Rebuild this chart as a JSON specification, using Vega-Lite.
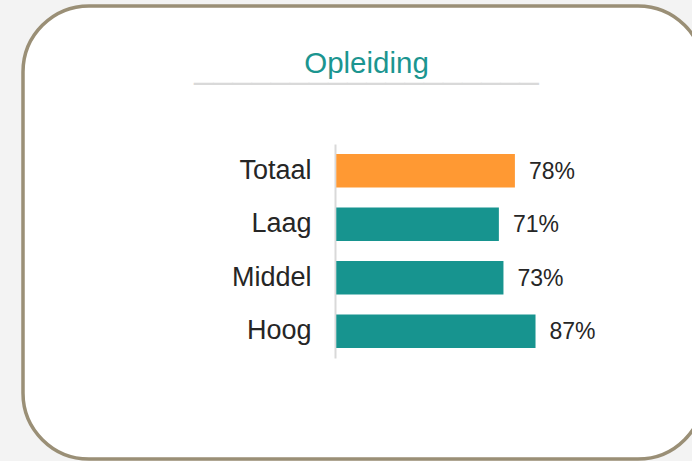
{
  "$schema": "https://vega.github.io/schema/vega-lite/v6.json",
  "width": 681,
  "height": 453,
  "autosize": {"type": "none"},
  "padding": {"left": 23, "top": 6, "right": 0, "bottom": 2},
  "background": "#f3f3f3",
  "config": {
    "view": {"fill": "white", "stroke": "#9a8f76", "strokeWidth": 3.5, "cornerRadius": 66},
    "font": "Liberation Sans"
  },
  "title": {
    "text": "Opleiding",
    "subtitle": "__________________",
    "anchor": "middle",
    "frame": "group",
    "orient": "top",
    "offset": -79,
    "dx": 3,
    "font": "Liberation Sans",
    "fontSize": 29.5,
    "fontWeight": "normal",
    "color": "#1b9590",
    "subtitleFont": "Liberation Sans",
    "subtitleFontSize": 34.4,
    "subtitleColor": "#d9d9d9",
    "subtitlePadding": -29
  },
  "data": {
    "values": [
      {"cat": "Totaal", "groep": "totaal", "value": 0.78},
      {"cat": "Laag", "groep": "opleiding", "value": 0.71},
      {"cat": "Middel", "groep": "opleiding", "value": 0.73},
      {"cat": "Hoog", "groep": "opleiding", "value": 0.87}
    ]
  },
  "encoding": {
    "y": {
      "field": "cat",
      "type": "nominal",
      "sort": null,
      "scale": {"range": [138, 352], "paddingInner": 0.375, "paddingOuter": 0.1875},
      "axis": {
        "orient": "left",
        "offset": -312,
        "title": null,
        "ticks": false,
        "grid": false,
        "domainColor": "#d9d9d9",
        "domainWidth": 2,
        "labelFont": "Liberation Sans",
        "labelFontSize": 27,
        "labelColor": "#262626",
        "labelPadding": 24
      }
    }
  },
  "layer": [
    {
      "mark": {"type": "bar"},
      "encoding": {
        "x": {
          "field": "value",
          "type": "quantitative",
          "scale": {"domain": [-1.368, 1.6057], "zero": false, "nice": false},
          "axis": null
        },
        "x2": {"datum": 0},
        "color": {
          "field": "groep",
          "type": "nominal",
          "scale": {"domain": ["totaal", "opleiding"], "range": ["#ff9933", "#17948f"]},
          "legend": null
        }
      }
    },
    {
      "mark": {"type": "text", "align": "left", "baseline": "middle", "dx": 14, "dy": 1, "fontSize": 23, "font": "Liberation Sans", "color": "#262626"},
      "encoding": {
        "x": {"field": "value", "type": "quantitative"},
        "text": {"field": "value", "type": "quantitative", "format": ".0%"}
      }
    }
  ]
}
